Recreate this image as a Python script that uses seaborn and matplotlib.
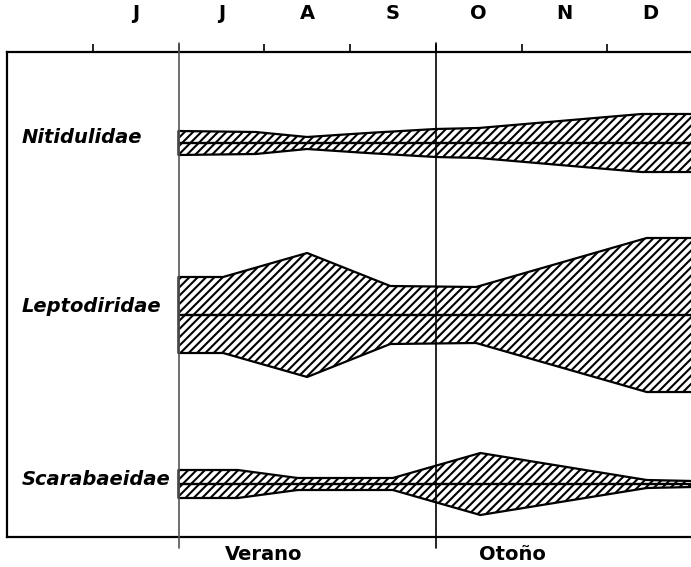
import numpy as np
import pandas as pd
import matplotlib
matplotlib.use("Agg")
import matplotlib.pyplot as plt
import seaborn as sns

sns.set_theme(style="white")
plt.rcParams["font.family"] = ["DejaVu Sans"]
plt.rcParams["hatch.linewidth"] = 1.5
plt.rcParams["text.color"] = "black"
plt.rcParams["xtick.color"] = "black"
plt.rcParams["xtick.labelcolor"] = "black"

# month axis: 4 = start of May ... 12 = end of December
month_labels = ["J", "J", "A", "S", "O", "N", "D"]
month_centers = [5.5, 6.5, 7.5, 8.5, 9.5, 10.5, 11.5]
month_bounds = [5, 6, 7, 8, 9, 10, 11]

families = ["Nitidulidae", "Leptodiridae", "Scarabaeidae"]

# kite half-widths (relative abundance)
nit_months = [6.0, 6.9, 7.5, 8.2, 9.0, 9.5, 11.4, 12.0]
nit_abund = [12, 11, 6, 10, 14, 15, 29, 29]

lep_months = [6.0, 6.52, 7.5, 8.47, 9.47, 11.46, 12.0]
lep_abund = [38, 38, 62, 29, 28, 77, 77]

sca_months = [6.0, 6.69, 7.39, 8.5, 9.52, 11.46, 12.0]
sca_abund = [14, 14, 6, 6, 31, 4, 3]

seasons = ["Verano", "Otoño"]

kites = [(nit_months, nit_abund), (lep_months, lep_abund), (sca_months, sca_abund)]
centers = [91, 263, 432]          # vertical position of each kite (pixels from top of box)
label_shift = [0, -3, 1]

fig = plt.figure(figsize=(6.91, 5.67), dpi=100)
ax = fig.add_axes([7 / 691, 1 - 537 / 567, 686 / 691, 485 / 567])

for name, (mx, ab), c, sh in zip(families, kites, centers, label_shift):
    mx = np.array(mx)
    ab = np.array(ab)
    ax.fill_between(mx, c - ab, c + ab, facecolor="white", edgecolor="black",
                    hatch="////", linewidth=1.6, zorder=2)
    line = pd.DataFrame({"month": mx, "y": np.full(len(mx), c)})
    sns.lineplot(data=line, x="month", y="y", color="black", linewidth=1.7, ax=ax, zorder=3)
    ax.text(4.175, c + sh, name, fontsize=14, fontweight="bold", fontstyle="italic",
            ha="left", va="baseline", color="black")

for x, col in [(6, "#555555"), (9, "black")]:
    ax.axvline(x, ymin=-0.022, ymax=1.019, color=col, linewidth=1.2, clip_on=False, zorder=4)

for s, x in zip(seasons, [6.99, 9.9]):
    ax.text(x, 508, s, fontsize=14, fontweight="bold", ha="center", va="baseline",
            color="black")

ax.set_xlim(4, 12)
ax.set_ylim(485, 0)
ax.set_xlabel("")
ax.set_ylabel("")
ax.set_yticks([])

ax.xaxis.tick_top()
ax.set_xticks(month_bounds)
ax.set_xticklabels([])
ax.set_xticks(month_centers, minor=True)
ax.set_xticklabels(month_labels, minor=True, fontsize=14, fontweight="bold", color="black")
ax.tick_params(axis="x", which="major", top=True, bottom=False, direction="out",
               length=6, width=1.2, color="black")
ax.tick_params(axis="x", which="minor", top=True, bottom=False, length=0, pad=21)

for side in ["top", "left", "bottom"]:
    ax.spines[side].set_color("black")
    ax.spines[side].set_linewidth(1.6)
ax.spines["right"].set_visible(False)

fig.savefig("out.png", dpi=100)
